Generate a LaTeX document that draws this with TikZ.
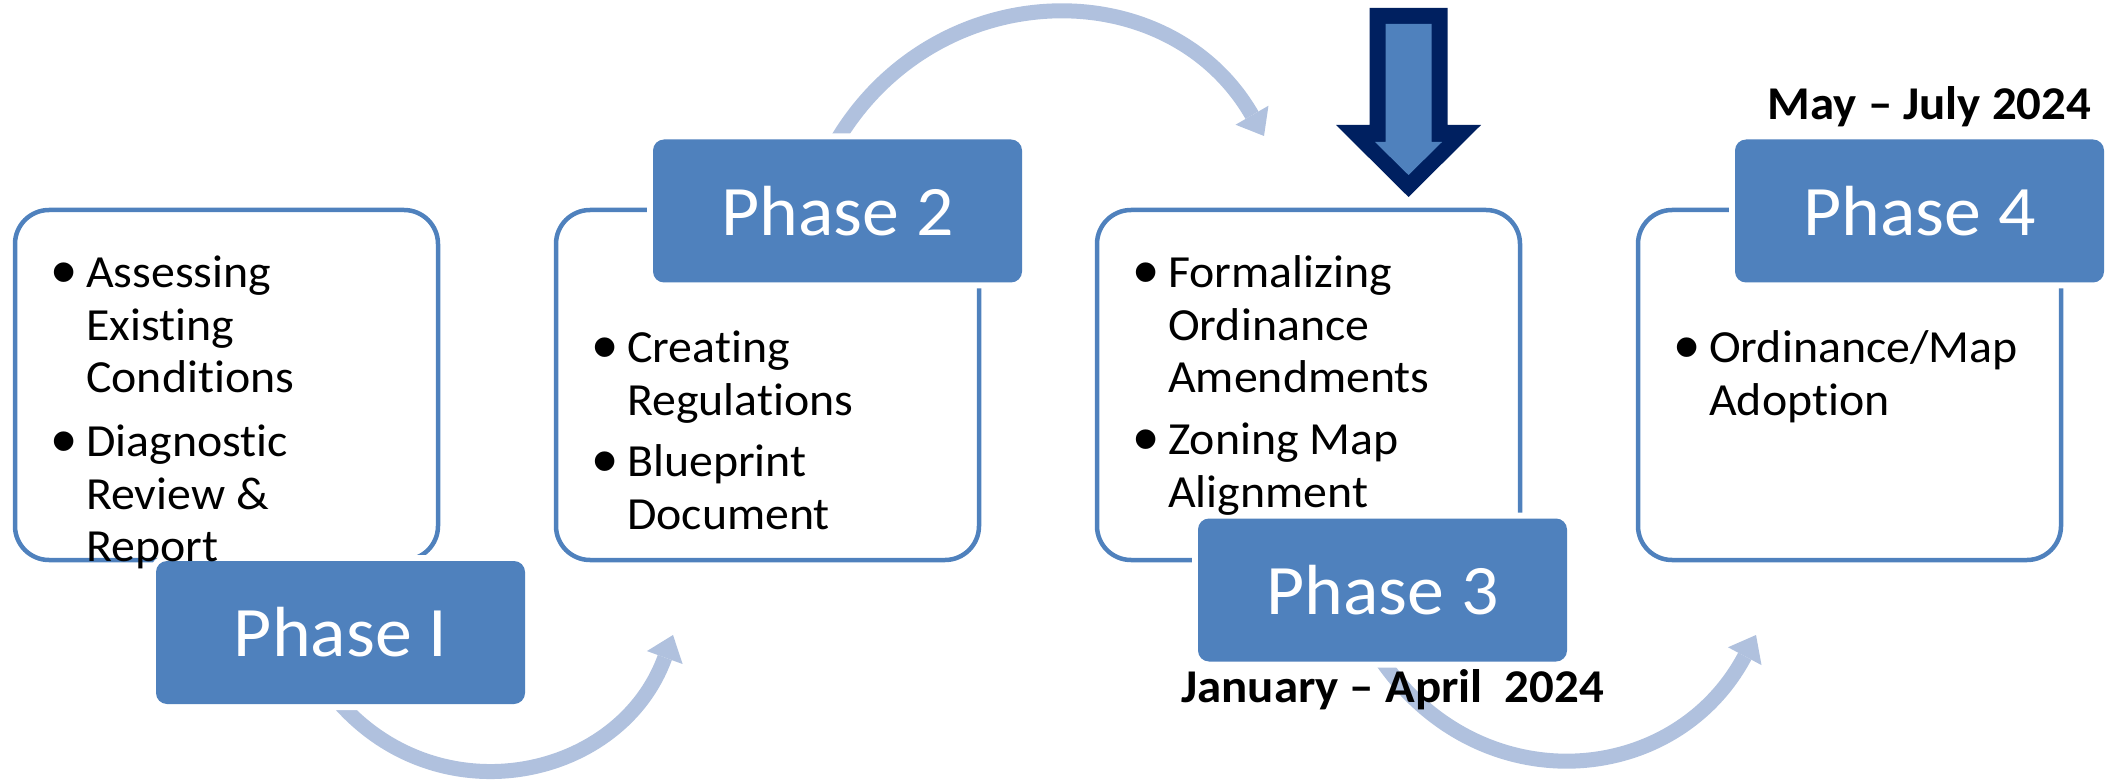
\documentclass[tikz,border=0pt]{standalone}
\usepackage{fontspec}
\setmainfont{Carlito}[Ligatures={TeX,NoCommon}, FakeStretch=1.04]
\newfontfamily\bulfont{Liberation Sans}
\usetikzlibrary{positioning,arrows.meta,backgrounds}

\definecolor{phaseblue}{RGB}{79,129,189}
\definecolor{flowblue}{RGB}{176,193,222}
\definecolor{navyblue}{RGB}{0,32,96}

% one bulleted entry, wrapped lines hang under the text
\newcommand{\bitem}[1]{\par\noindent\hangindent=31pt\hangafter=1\spaceskip=10.8pt\relax\strut%
  \makebox[31pt][l]{\hspace{-4pt}\raisebox{-8.5pt}{\fontsize{72}{52.5}\bulfont\textbullet}}#1\par}

\begin{document}
\begin{tikzpicture}[x=1pt, y=1pt,
    panel/.style={draw=phaseblue, line width=4.5pt, rounded corners=34pt,
      minimum width=423pt, minimum height=350pt, inner sep=0pt, outer sep=0pt},
    phase/.style={fill=phaseblue, rounded corners=11pt, minimum width=369pt,
      minimum height=143pt, inner sep=0pt, outer sep=0pt, text=white,
      font=\fontsize{71}{80}\selectfont, preaction={draw=white, line width=12pt}},
    items/.style={inner sep=0pt, text width=375pt,
      font=\fontsize{46}{52.5}\selectfont\raggedright},
    date/.style={inner sep=0pt, font=\bfseries\fontsize{47}{56}\selectfont},
    flow/.style={draw=flowblue, line width=15pt,
      -{Triangle[length=24pt, width=38pt, line width=0pt]}}]
    \useasboundingbox (0,0) rectangle (2108,780);

    \node[panel]                     (box1) at (226.5,395) {};
    \node[panel, right=118pt of box1] (box2) {};
    \node[panel, right=118pt of box2] (box3) {};
    \node[panel, right=118pt of box3] (box4) {};

    \node[phase, xshift=114pt, yshift=-72.5pt] (ph1) at (box1.south) {Phase I};
    \node[phase, xshift=70pt, yshift=-1pt]     (ph2) at (box2.north) {Phase 2};
    \node[phase, xshift=74pt, yshift=-30pt]    (ph3) at (box3.south) {Phase 3};
    \node[phase, xshift=70pt, yshift=-1pt]     (ph4) at (box4.north) {Phase 4};

    \node[items, below right=25pt and 40pt of box1.north west] (t1) {%
      \bitem{Assessing\newline Existing\newline Conditions}
      \vspace{11.5pt}
      \bitem{Diagnostic\newline Review \&\newline Report}};
    \node[items, below right=100pt and 40pt of box2.north west] (t2) {%
      \bitem{Creating\newline Regulations}
      \vspace{9pt}
      \bitem{Blueprint\newline Document}};
    \node[items, below right=25pt and 40pt of box3.north west] (t3) {%
      \bitem{Formalizing\newline Ordinance\newline Amendments}
      \vspace{9.5pt}
      \bitem{Zoning Map\newline Alignment}};
    \node[items, below right=100pt and 40pt of box4.north west] (t4) {%
      \bitem{Ordinance/Map\newline Adoption}};

    \node[date, below=8pt of ph3, xshift=10pt]  (jan) {January -- April\ \ 2024};
    \node[date, above=12pt of ph4, xshift=10pt] (may) {May -- July 2024};

    % ends of the curved arrows
    \coordinate (a1) at ([shift={(117,-75)}]box2.south west);
    \coordinate (a2) at ([shift={(167,74)}]box3.north west);
    \coordinate (a3) at ([shift={(118,-75)}]box4.south west);

    \begin{scope}[on background layer]
      \draw[flow] (ph1.south) to[out=-48, in=-110, looseness=1.15] (a1);
      \draw[flow] (ph2.north) to[out=59, in=120, looseness=1.15] (a2);
      \draw[flow] (ph3.south) to[out=-55, in=-118, looseness=1.18] (a3);
    \end{scope}

    % block arrow pointing at the current phase
    \coordinate (now) at ([shift={(100,13)}]box3.north);
    \fill[navyblue] (now) -- ++(-72.5,72) -- ++(33.5,0) -- ++(0,117) -- ++(78,0)
      -- ++(0,-117) -- ++(33.5,0) -- cycle;
    \fill[phaseblue] ([yshift=22pt]now) -- ++(-33.5,33) -- ++(10.5,0) -- ++(0,118)
      -- ++(46,0) -- ++(0,-118) -- ++(10.5,0) -- cycle;
\end{tikzpicture}
\end{document}
